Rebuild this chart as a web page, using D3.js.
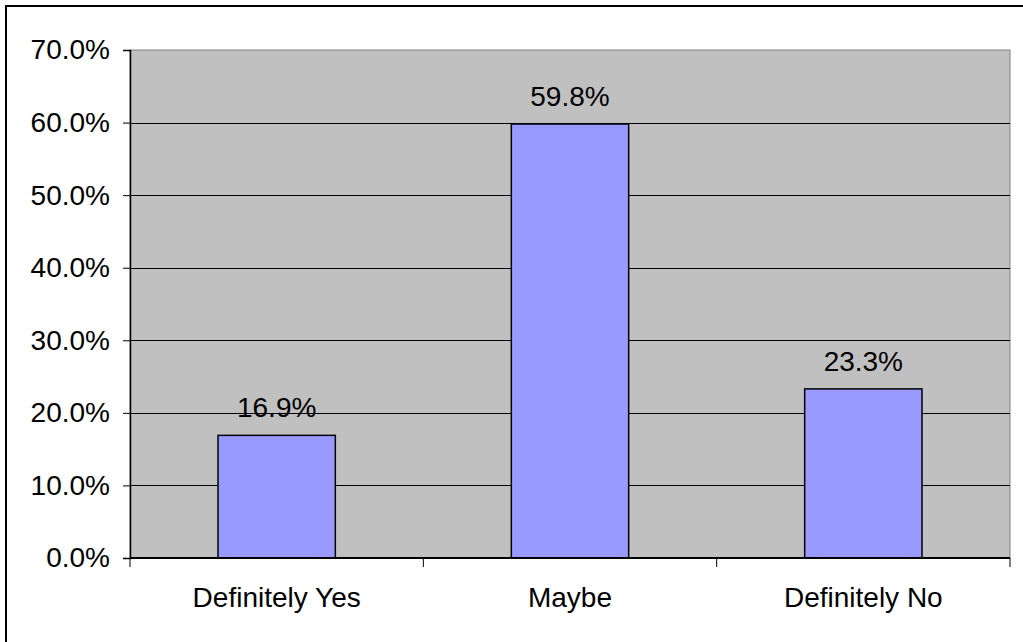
<!DOCTYPE html>
<html>
<head>
<meta charset="utf-8">
<script src="https://cdn.jsdelivr.net/npm/d3@7"></script>
<style>
  body { margin: 0; background: #fff; }
  text { font-family: "Liberation Sans", Arial, sans-serif; fill: #000; }
</style>
</head>
<body>
<script>
var categories = ["Definitely Yes", "Maybe", "Definitely No"];
var values = [16.9, 59.8, 23.3];
var yTicks = [0, 10, 20, 30, 40, 50, 60, 70];

var width = 1023, height = 642;
var plotLeft = 130, plotRight = 1010, plotTop = 50, plotBottom = 558;
var fontSize = "28px";

var svg = d3.select("body").append("svg")
    .attr("width", width)
    .attr("height", height);

// outer chart border (cropped on right/bottom)
svg.append("rect")
    .attr("x", 6).attr("y", 6)
    .attr("width", 1100).attr("height", 1000)
    .attr("fill", "#fff")
    .attr("stroke", "#000")
    .attr("stroke-width", 2);

var x = d3.scaleBand()
    .domain(categories)
    .range([plotLeft, plotRight])
    .paddingInner(0)
    .paddingOuter(0);

var y = d3.scaleLinear()
    .domain([0, 70])
    .range([plotBottom, plotTop]);

// plot area
svg.append("rect")
    .attr("x", plotLeft).attr("y", plotTop)
    .attr("width", plotRight - plotLeft).attr("height", plotBottom - plotTop)
    .attr("fill", "#c0c0c0")
    .attr("stroke", "#808080")
    .attr("stroke-width", 1);

// gridlines
svg.selectAll(".grid")
    .data(yTicks.filter(function(d) { return d > 0 && d < 70; }))
    .enter().append("line")
    .attr("x1", plotLeft).attr("x2", plotRight)
    .attr("y1", function(d) { return Math.round(y(d)) + 0.5; })
    .attr("y2", function(d) { return Math.round(y(d)) + 0.5; })
    .attr("stroke", "#000")
    .attr("stroke-width", 1);

// bars
var barW = x.bandwidth() * 0.4;
svg.selectAll(".bar")
    .data(values)
    .enter().append("rect")
    .attr("x", function(d, i) { return x(categories[i]) + (x.bandwidth() - barW) / 2; })
    .attr("y", function(d) { return y(d); })
    .attr("width", barW)
    .attr("height", function(d) { return plotBottom - y(d); })
    .attr("fill", "#9999ff")
    .attr("stroke", "#000")
    .attr("stroke-width", 1.5);

// value labels
svg.selectAll(".val")
    .data(values)
    .enter().append("text")
    .attr("x", function(d, i) { return x(categories[i]) + x.bandwidth() / 2; })
    .attr("y", function(d) { return y(d) - 18; })
    .attr("text-anchor", "middle")
    .attr("font-size", fontSize)
    .text(function(d) { return d.toFixed(1) + "%"; });

// y axis
var yAxis = d3.axisLeft(y)
    .tickValues(yTicks)
    .tickSize(7)
    .tickPadding(13)
    .tickFormat(function(d) { return d.toFixed(1) + "%"; });

var gy = svg.append("g")
    .attr("transform", "translate(" + plotLeft + ",0)")
    .call(yAxis);
gy.select(".domain").attr("stroke", "#000").attr("stroke-width", 1.5);
gy.selectAll(".tick line").attr("stroke", "#000");
gy.selectAll(".tick text")
    .attr("font-size", fontSize)
    .attr("font-family", "'Liberation Sans', Arial, sans-serif")
    .attr("fill", "#000");

// x axis
var gx = svg.append("g")
    .attr("transform", "translate(0," + plotBottom + ")");
gx.append("line")
    .attr("x1", plotLeft).attr("x2", plotRight)
    .attr("y1", 0).attr("y2", 0)
    .attr("stroke", "#000")
    .attr("stroke-width", 2);
var bounds = categories.map(function(c) { return x(c); }).concat([plotRight]);
gx.selectAll(".xt")
    .data(bounds)
    .enter().append("line")
    .attr("x1", function(d) { return d; })
    .attr("x2", function(d) { return d; })
    .attr("y1", 0).attr("y2", 9)
    .attr("stroke", "#000");
gx.selectAll(".xl")
    .data(categories)
    .enter().append("text")
    .attr("x", function(d) { return x(d) + x.bandwidth() / 2; })
    .attr("y", 49)
    .attr("text-anchor", "middle")
    .attr("font-size", fontSize)
    .text(function(d) { return d; });
</script>
</body>
</html>
